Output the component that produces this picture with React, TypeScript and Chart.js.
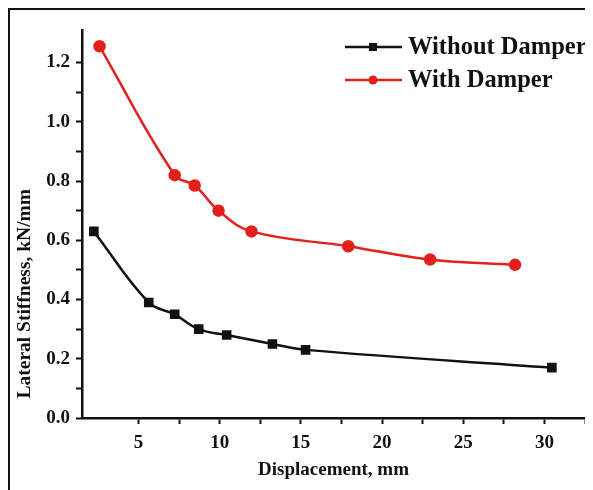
import React, { useEffect, useRef } from "react";
import { Chart, registerables } from "chart.js";

Chart.register(...registerables);

const withoutX = [2.25, 5.63, 7.23, 8.71, 10.43, 13.25, 15.29, 30.46];
const withoutY = [0.63, 0.39, 0.35, 0.3, 0.28, 0.25, 0.23, 0.17];
const withX = [2.6, 7.23, 8.46, 9.93, 11.96, 17.92, 22.96, 28.19];
const withY = [1.255, 0.82, 0.785, 0.7, 0.63, 0.58, 0.535, 0.517];
const seriesNames = ["Without Damper", "With Damper"];
const seriesColors = ["#111111", "#e3201b"];

const FONT = "'Liberation Serif', 'Times New Roman', serif";

const legendPlugin = {
  id: "customLegend",
  afterDraw(chart: any) {
    const ctx = chart.ctx;
    const rows = [37, 70];
    ctx.save();
    chart.data.datasets.forEach((ds: any, i: number) => {
      const y = rows[i];
      ctx.strokeStyle = ds.borderColor;
      ctx.lineWidth = 2.5;
      ctx.beginPath();
      ctx.moveTo(335, y);
      ctx.lineTo(392, y);
      ctx.stroke();
      ctx.fillStyle = ds.borderColor;
      if (ds.pointStyle === "rect") {
        ctx.fillRect(363 - 4, y - 4, 8, 8);
      } else {
        ctx.beginPath();
        ctx.arc(363, y, 4.5, 0, Math.PI * 2);
        ctx.fill();
      }
      ctx.fillStyle = "#111";
      ctx.font = `bold 24.5px ${FONT}`;
      ctx.textBaseline = "middle";
      ctx.textAlign = "left";
      ctx.fillText(ds.label, 398, y + 1);
    });
    ctx.restore();
  },
};

export default function App() {
  const ref = useRef<HTMLCanvasElement>(null);
  useEffect(() => {
    if (!ref.current) return;
    const chart = new Chart(ref.current, {
      type: "line",
      data: {
        datasets: [
          {
            label: seriesNames[0],
            data: withoutX.map((x, i) => ({ x, y: withoutY[i] })),
            borderColor: seriesColors[0],
            backgroundColor: seriesColors[0],
            pointStyle: "rect",
            pointRadius: 5,
            borderWidth: 2.5,
            tension: 0.4,
          },
          {
            label: seriesNames[1],
            data: withX.map((x, i) => ({ x, y: withY[i] })),
            borderColor: seriesColors[1],
            backgroundColor: seriesColors[1],
            pointStyle: "circle",
            pointRadius: 5,
            borderWidth: 2.5,
            tension: 0.4,
          },
        ],
      },
      options: {
        animation: false,
        responsive: false,
        layout: { padding: { top: 20, right: 7, left: 0, bottom: 0 } },
        plugins: { legend: { display: false }, tooltip: { enabled: false } },
        scales: {
          x: {
            type: "linear",
            min: 1.52,
            max: 32.5,
            afterBuildTicks: (axis: any) => {
              axis.ticks = axis.ticks.filter(
                (t: any) => Math.abs(t.value / 2.5 - Math.round(t.value / 2.5)) < 1e-6
              );
            },
            afterFit: (s: any) => {
              s.height = 72;
            },
            ticks: {
              stepSize: 2.5,
              autoSkip: false,
              maxRotation: 0,
              padding: 8,
              color: "#111",
              font: { family: FONT, size: 19, weight: "bold" },
              callback: (v: any) => (Math.round(v) % 5 === 0 && Math.abs(v - Math.round(v)) < 1e-6 ? String(Math.round(v)) : ""),
            },
            grid: { drawOnChartArea: false, drawTicks: true, tickLength: 6, tickWidth: 2, tickColor: "#111" },
            border: { display: true, color: "#111", width: 2.5 },
            title: {
              display: true,
              text: "Displacement, mm",
              color: "#111",
              font: { family: FONT, size: 19, weight: "bold" },
              padding: { top: 0, bottom: 9 },
            },
          },
          y: {
            type: "linear",
            min: 0,
            max: 1.31,
            afterBuildTicks: (axis: any) => {
              axis.ticks = axis.ticks.filter(
                (t: any) => Math.abs(t.value * 10 - Math.round(t.value * 10)) < 1e-6
              );
            },
            afterFit: (s: any) => {
              s.width = 72;
            },
            ticks: {
              stepSize: 0.1,
              autoSkip: false,
              padding: 6,
              color: "#111",
              font: { family: FONT, size: 19, weight: "bold" },
              callback: (v: any) => (Math.round(v * 10) % 2 === 0 ? Number(v).toFixed(1) : ""),
            },
            grid: { drawOnChartArea: false, drawTicks: true, tickLength: 6, tickWidth: 2, tickColor: "#111" },
            border: { display: true, color: "#111", width: 2.5 },
            title: {
              display: true,
              align: "start",
              text: "    Lateral Stiffness, kN/mm",
              color: "#111",
              font: { family: FONT, size: 19.5, weight: "bold" },
              padding: { top: 3, bottom: 0 },
            },
          },
        },
      },
      plugins: [legendPlugin],
    } as any);
    return () => chart.destroy();
  }, []);
  return (
    <div
      style={{
        width: 583,
        height: 480,
        borderLeft: "2px solid #111",
        borderTop: "2px solid #111",
        background: "#fff",
      }}
    >
      <canvas ref={ref} width={583} height={480} style={{ display: "block" }} />
    </div>
  );
}
